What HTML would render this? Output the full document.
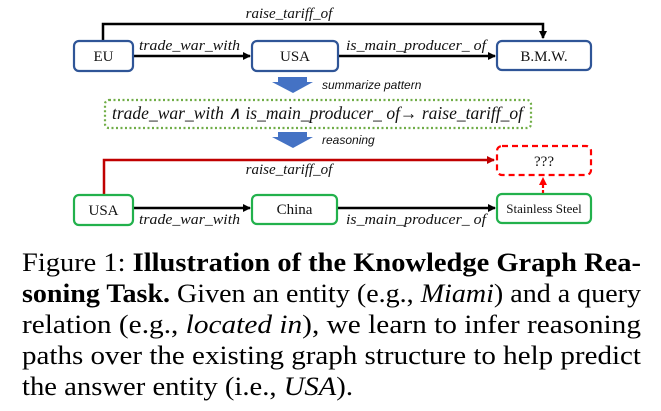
<!DOCTYPE html>
<html><head><meta charset="utf-8"><style>
html,body{margin:0;padding:0;background:#fff;width:661px;height:411px;overflow:hidden}
svg{display:block}
text{font-family:"Liberation Serif","Times New Roman",Times,serif}
.lab{font-style:italic;font-size:15px;fill:#111}
.nd{font-size:15px;fill:#111}
.sn{font-family:"Liberation Sans","DejaVu Sans",sans-serif;font-style:italic;font-size:12px;fill:#111}
.cap{font-size:26px;fill:#000}
</style></head><body>
<svg width="661" height="411" viewBox="0 0 661 411" xmlns="http://www.w3.org/2000/svg">
<defs>
<marker id="ab" markerWidth="8" markerHeight="8" refX="7" refY="4" orient="auto" markerUnits="userSpaceOnUse"><path d="M0,0 L8,4 L0,8 z" fill="#000"/></marker>
<marker id="ar" markerWidth="8" markerHeight="8" refX="7" refY="4" orient="auto" markerUnits="userSpaceOnUse"><path d="M0,0 L8,4 L0,8 z" fill="#c00000"/></marker>
<marker id="ar2" markerWidth="8" markerHeight="8" refX="7" refY="4" orient="auto" markerUnits="userSpaceOnUse"><path d="M0,0 L8,4 L0,8 z" fill="#ff0000"/></marker>
</defs>
<polyline points="103,40 103,24 543,24 543,38" fill="none" stroke="#000" stroke-width="2.5" marker-end="url(#ab)"/>
<text class="lab" x="289" y="18" text-anchor="middle">raise_tariff_of</text>
<line x1="133" y1="56" x2="250" y2="56" stroke="#000" stroke-width="2.5" marker-end="url(#ab)"/>
<text class="lab" x="139" y="50" textLength="101" lengthAdjust="spacingAndGlyphs">trade_war_with</text>
<line x1="338" y1="56" x2="495" y2="56" stroke="#000" stroke-width="2.5" marker-end="url(#ab)"/>
<text class="lab" x="346" y="50" textLength="140" lengthAdjust="spacingAndGlyphs">is_main_producer_ of</text>
<rect x="74" y="41" width="59" height="30" rx="5" fill="#fff" stroke="#2f5597" stroke-width="2.2"/>
<text class="nd" x="103.5" y="61" text-anchor="middle">EU</text>
<rect x="252" y="41" width="86" height="30" rx="5" fill="#fff" stroke="#2f5597" stroke-width="2.2"/>
<text class="nd" x="295" y="61" text-anchor="middle">USA</text>
<rect x="497" y="41" width="94" height="29" rx="5" fill="#fff" stroke="#2f5597" stroke-width="2.2"/>
<text class="nd" x="544" y="61" text-anchor="middle">B.M.W.</text>
<path d="M278,77 L307,77 L307,82 L313,82 L293,93 L272,82 L278,82 z" fill="#4472c4"/>
<text class="sn" x="322" y="89">summarize pattern</text>
<rect x="105" y="100" width="426" height="28" rx="4" fill="none" stroke="#70ad47" stroke-width="2.2" stroke-dasharray="2,2.5"/>
<text class="lab" x="112" y="119" style="font-size:18px" textLength="411" lengthAdjust="spacingAndGlyphs">trade_war_with ∧ is_main_producer_ of→ raise_tariff_of</text>
<path d="M278,132 L307,132 L307,137 L313,137 L293,148 L272,137 L278,137 z" fill="#4472c4"/>
<text class="sn" x="322" y="144">reasoning</text>
<polyline points="104,194 104,160 494,160" fill="none" stroke="#c00000" stroke-width="2.5" marker-end="url(#ar)"/>
<text class="lab" x="289" y="174" text-anchor="middle">raise_tariff_of</text>
<line x1="543" y1="193" x2="543" y2="178" stroke="#ff0000" stroke-width="2.2" stroke-dasharray="3,2" marker-end="url(#ar2)"/>
<rect x="497" y="146" width="94" height="29" rx="5" fill="#fff" stroke="#ff0000" stroke-width="2.2" stroke-dasharray="6,4"/>
<text class="nd" x="544" y="166" text-anchor="middle">???</text>
<line x1="134" y1="208" x2="250" y2="208" stroke="#000" stroke-width="2.5" marker-end="url(#ab)"/>
<text class="lab" x="139" y="224" textLength="101" lengthAdjust="spacingAndGlyphs">trade_war_with</text>
<line x1="337" y1="208" x2="495" y2="208" stroke="#000" stroke-width="2.5" marker-end="url(#ab)"/>
<text class="lab" x="346" y="224" textLength="140" lengthAdjust="spacingAndGlyphs">is_main_producer_ of</text>
<rect x="74" y="195" width="59" height="30" rx="5" fill="#fff" stroke="#22b14c" stroke-width="2.2"/>
<text class="nd" x="103.5" y="215" text-anchor="middle">USA</text>
<rect x="252" y="195" width="85" height="29" rx="5" fill="#fff" stroke="#22b14c" stroke-width="2.2"/>
<text class="nd" x="294.5" y="214" text-anchor="middle">China</text>
<rect x="497" y="194" width="94" height="29" rx="5" fill="#fff" stroke="#22b14c" stroke-width="2.2"/>
<text class="nd" x="544" y="213" text-anchor="middle" style="font-size:13px">Stainless Steel</text>
<text class="cap" x="22" y="271" textLength="619" lengthAdjust="spacingAndGlyphs">Figure 1: <tspan font-weight="bold">Illustration of the Knowledge Graph Rea-</tspan></text>
<text class="cap" x="22" y="302" textLength="619" lengthAdjust="spacingAndGlyphs"><tspan font-weight="bold">soning Task.</tspan> Given an entity (e.g., <tspan font-style="italic">Miami</tspan>) and a query</text>
<text class="cap" x="22" y="333" textLength="619" lengthAdjust="spacingAndGlyphs">relation (e.g., <tspan font-style="italic">located in</tspan>), we learn to infer reasoning</text>
<text class="cap" x="22" y="364" textLength="619" lengthAdjust="spacingAndGlyphs">paths over the existing graph structure to help predict</text>
<text class="cap" x="22" y="395" textLength="331" lengthAdjust="spacingAndGlyphs">the answer entity (i.e., <tspan font-style="italic">USA</tspan>).</text>
</svg>
</body></html>
